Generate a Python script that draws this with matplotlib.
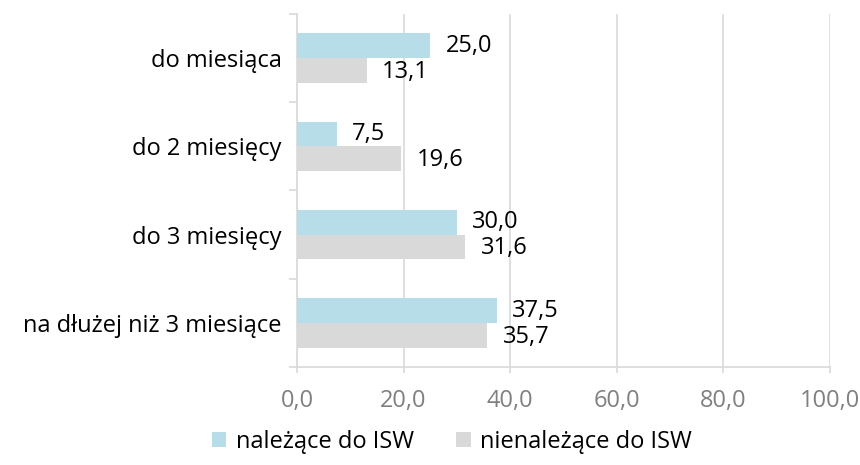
import matplotlib
matplotlib.use("Agg")
import matplotlib.pyplot as plt
import numpy as np

categories = ["do miesiąca", "do 2 miesięcy", "do 3 miesięcy", "na dłużej niż 3 miesiące"]
series_names = ["należące do ISW", "nienależące do ISW"]
isw = [25.0, 7.5, 30.0, 37.5]
non_isw = [13.1, 19.6, 31.6, 35.7]
xticks = [0, 20, 40, 60, 80, 100]

plt.rcParams['font.family'] = ['Open Sans', 'DejaVu Sans']
FS = 17

fig = plt.figure(figsize=(8.6, 4.65), dpi=100)
ax = fig.add_axes([297/860, 1-367/465, (830-297)/860, (367-14)/465])

c_blue = "#B6DDE8"
c_gray = "#D9D9D9"
h = 0.28
y = np.arange(len(categories))
ax.barh(y - h/2, isw, height=h, color=c_blue, label=series_names[0], zorder=3)
ax.barh(y + h/2, non_isw, height=h, color=c_gray, label=series_names[1], zorder=3)

for yi, v in zip(y, isw):
    ax.annotate(f"{v:.1f}".replace(".", ","), (v, yi - h/2), xytext=(11, 0),
                textcoords="offset points", va="center", ha="left", fontsize=FS, color="#000000")
for yi, v in zip(y, non_isw):
    ax.annotate(f"{v:.1f}".replace(".", ","), (v, yi + h/2), xytext=(11, -1),
                textcoords="offset points", va="center", ha="left", fontsize=FS, color="#000000")

ax.set_xlim(0, 100)
ax.set_ylim(len(categories) - 0.5, -0.5)
ax.set_xticks(xticks)
ax.set_xticklabels([f"{t:.1f}".replace(".", ",") for t in xticks], color="#808080", fontsize=FS)
ax.set_yticks(y)
ax.set_yticklabels(categories, fontsize=FS, color="#000000")
ax.set_yticks(np.arange(len(categories) + 1) - 0.5, minor=True)
ax.tick_params(axis='y', which='major', length=0, pad=11)
ax.tick_params(axis='y', which='minor', length=6, color="#D9D9D9", width=1.2)
ax.tick_params(axis='x', length=4.5, width=1.2, color="#D9D9D9", pad=11)
ax.grid(axis='x', color="#D9D9D9", linewidth=1.2, zorder=0)
for s in ["top", "right"]:
    ax.spines[s].set_visible(False)
for s in ["left", "bottom"]:
    ax.spines[s].set_color("#D9D9D9")
    ax.spines[s].set_linewidth(1.2)
ax.set_axisbelow(True)

fig.legend(loc="center", bbox_to_anchor=(452/860, 1-442/465), ncol=2, frameon=False,
           fontsize=FS, handlelength=0.6, handleheight=0.6, columnspacing=1.8, handletextpad=0.4)

fig.savefig("out.png", dpi=100)
